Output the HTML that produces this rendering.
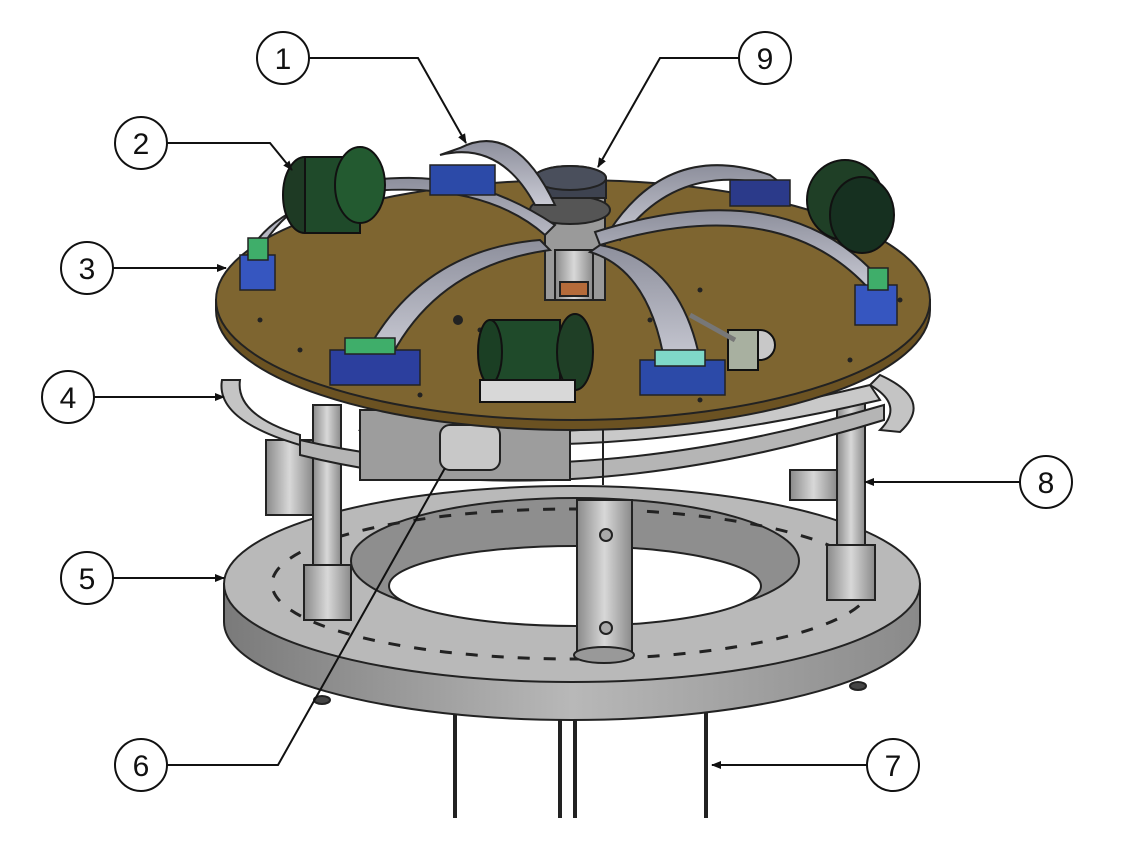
<!DOCTYPE html>
<html><head><meta charset="utf-8"><style>
html,body{margin:0;padding:0;background:#fff;}
svg{display:block;}
text{font-family:"Liberation Sans",sans-serif;font-size:30px;fill:#111;}
</style></head><body>
<svg width="1126" height="862" viewBox="0 0 1126 862">
<defs>
<marker id="ar" markerWidth="10" markerHeight="10" refX="9" refY="5" orient="auto" markerUnits="userSpaceOnUse"><path d="M0,1 L10,5 L0,9 z" fill="#111"/></marker>
<linearGradient id="gside" x1="0" x2="1"><stop offset="0" stop-color="#7a7a7a"/><stop offset="0.5" stop-color="#b8b8b8"/><stop offset="1" stop-color="#8a8a8a"/></linearGradient>
<linearGradient id="gcyl" x1="0" x2="1"><stop offset="0" stop-color="#8a8a8a"/><stop offset="0.5" stop-color="#d8d8d8"/><stop offset="1" stop-color="#8a8a8a"/></linearGradient>
<linearGradient id="gstrap" x1="0" x2="0" y1="0" y2="1"><stop offset="0" stop-color="#8d8f9c"/><stop offset="1" stop-color="#c9cad4"/></linearGradient>
</defs>

<!-- rods below -->
<g stroke="#222" stroke-width="4">
<line x1="455" y1="600" x2="455" y2="818"/><line x1="560" y1="600" x2="560" y2="818"/><line x1="575" y1="600" x2="575" y2="818"/><line x1="706" y1="600" x2="706" y2="818"/>
</g>

<!-- base ring -->
<g stroke="#222" stroke-width="2">
<path d="M224,584 L224,622 A348,98 0 0 0 920,622 L920,584 Z" fill="url(#gside)"/>
<ellipse cx="572" cy="584" rx="348" ry="98" fill="#b9b9b9"/>
<ellipse cx="575" cy="561" rx="224" ry="63" fill="#8e8e8e"/>
<ellipse cx="575" cy="586" rx="186" ry="40" fill="#fff"/>
<ellipse cx="322" cy="700" rx="8" ry="4" fill="#444"/>
<ellipse cx="858" cy="686" rx="8" ry="4" fill="#444"/>
</g>
<g fill="none" stroke="#222" stroke-width="3" stroke-dasharray="12 14">
<ellipse cx="572" cy="584" rx="300" ry="75"/>
</g>

<!-- pillars -->
<g stroke="#222" stroke-width="2">
<rect x="266" y="440" width="47" height="75" fill="url(#gcyl)"/>
<rect x="790" y="470" width="47" height="30" fill="url(#gcyl)"/>
<rect x="313" y="405" width="28" height="160" fill="url(#gcyl)"/>
<rect x="304" y="565" width="47" height="55" fill="url(#gcyl)"/>
<rect x="837" y="395" width="28" height="150" fill="url(#gcyl)"/>
<rect x="827" y="545" width="48" height="55" fill="url(#gcyl)"/>
<rect x="577" y="500" width="55" height="155" fill="url(#gcyl)"/>
<ellipse cx="604" cy="655" rx="30" ry="8" fill="#999"/>
<circle cx="606" cy="535" r="6" fill="#aaa"/><circle cx="606" cy="628" r="6" fill="#aaa"/>
</g>

<!-- middle ring -->
<g stroke="#222" stroke-width="2">
<path d="M222,380 Q215,420 300,445 L300,435 Q235,415 240,380 Z" fill="#c4c4c4"/>
<path d="M300,455 Q560,520 884,420 L884,405 Q560,500 300,440 Z" fill="#b5b5b5"/>
<path d="M360,430 Q580,470 880,400 L870,385 Q580,455 370,420 Z" fill="#c9c9c9"/>
<path d="M880,375 Q935,400 900,432 L880,430 Q905,405 870,385 Z" fill="#c4c4c4"/>
<rect x="360" y="410" width="210" height="70" fill="#9d9d9d"/>
<rect x="440" y="425" width="60" height="45" rx="10" fill="#c8c8c8"/>
<line x1="603" y1="420" x2="603" y2="485"/>
</g>

<!-- top disc -->
<g stroke="#222" stroke-width="2">
<path d="M216,300 L216,310 A357,120 0 0 0 930,310 L930,300 Z" fill="#6b5222"/>
<ellipse cx="573" cy="300" rx="357" ry="120" fill="#7e6530"/>
</g>
<g fill="#222">
<circle cx="260" cy="320" r="2.5"/><circle cx="300" cy="350" r="2.5"/><circle cx="420" cy="395" r="2.5"/><circle cx="700" cy="400" r="2.5"/><circle cx="850" cy="360" r="2.5"/><circle cx="900" cy="300" r="2.5"/><circle cx="480" cy="330" r="2.5"/><circle cx="650" cy="320" r="2.5"/><circle cx="700" cy="290" r="2.5"/><circle cx="458" cy="320" r="5"/>
</g>

<!-- central column -->
<g stroke="#222" stroke-width="2">
<rect x="545" y="190" width="60" height="110" fill="#9a9a9a"/>
<rect x="555" y="250" width="38" height="50" fill="url(#gcyl)"/>
<rect x="560" y="282" width="28" height="14" fill="#b56b3a"/>
<ellipse cx="570" cy="210" rx="40" ry="14" fill="#555"/>
<ellipse cx="570" cy="178" rx="36" ry="12" fill="#3e4350"/>
<rect x="534" y="178" width="72" height="20" fill="#3e4350"/>
<ellipse cx="570" cy="178" rx="36" ry="12" fill="#4a4f5c"/>
</g>

<!-- straps -->
<g stroke="#222" stroke-width="2" fill="url(#gstrap)">
<path d="M440,155 Q500,140 535,205 L555,205 Q515,120 460,148 Z"/>
<path d="M245,260 Q280,185 420,190 Q500,195 545,235 L555,225 Q480,175 400,178 Q300,180 260,250 Z"/>
<path d="M365,355 Q420,250 540,240 L550,250 Q440,265 392,355 Z"/>
<path d="M610,230 Q670,140 770,175 L790,190 Q680,155 620,240 Z"/>
<path d="M600,245 Q780,190 870,290 L885,285 Q790,170 595,232 Z"/>
<path d="M600,245 Q680,260 700,360 L665,365 Q650,270 590,252 Z"/>
</g>

<!-- blocks -->
<g stroke="#222" stroke-width="1.5">
<rect x="430" y="165" width="65" height="30" fill="#2c4aa8"/>
<rect x="240" y="255" width="35" height="35" fill="#3656c0"/><rect x="248" y="238" width="20" height="22" fill="#3fae6a"/>
<rect x="330" y="350" width="90" height="35" fill="#2c3f9e"/><rect x="345" y="338" width="50" height="16" fill="#3fae6a"/>
<rect x="640" y="360" width="85" height="35" fill="#2c4aa8"/><rect x="655" y="350" width="50" height="16" fill="#7fd8c8"/>
<rect x="855" y="285" width="42" height="40" fill="#3656c0"/><rect x="868" y="268" width="20" height="22" fill="#3fae6a"/>
<rect x="730" y="180" width="60" height="26" fill="#2b3a8a"/>
</g>

<!-- motors -->
<g stroke="#111" stroke-width="2">
<ellipse cx="305" cy="195" rx="22" ry="38" fill="#1e3a24"/>
<rect x="305" y="157" width="55" height="76" fill="#1f4a2a"/>
<ellipse cx="360" cy="185" rx="25" ry="38" fill="#235a30"/>
<ellipse cx="845" cy="200" rx="38" ry="40" fill="#1f3f26"/>
<ellipse cx="862" cy="215" rx="32" ry="38" fill="#163020"/>
<rect x="490" y="320" width="70" height="65" fill="#1f4a2a"/>
<ellipse cx="490" cy="352" rx="12" ry="32" fill="#1b3f24"/>
<ellipse cx="575" cy="352" rx="18" ry="38" fill="#1f3f26"/>
<rect x="480" y="380" width="95" height="22" fill="#d8d8d8"/>
<ellipse cx="760" cy="345" rx="15" ry="15" fill="#c8c8c8"/>
<rect x="728" y="330" width="30" height="40" fill="#a8b0a0"/>
<line x1="690" y1="315" x2="735" y2="340" stroke-width="5" stroke="#777"/>
</g>

<!-- callouts -->
<g fill="none" stroke="#111" stroke-width="2">
<polyline points="309,58 418,58 466,143" marker-end="url(#ar)"/>
<polyline points="739,58 660,58 598,167" marker-end="url(#ar)"/>
<polyline points="167,143 270,143 292,170" marker-end="url(#ar)"/>
<polyline points="113,268 226,268" marker-end="url(#ar)"/>
<polyline points="94,397 224,397" marker-end="url(#ar)"/>
<polyline points="113,578 224,578" marker-end="url(#ar)"/>
<polyline points="167,765 278,765 445,468"/>
<polyline points="867,765 712,765" marker-end="url(#ar)"/>
<polyline points="1020,482 865,482" marker-end="url(#ar)"/>
</g>
<g fill="#fff" stroke="#111" stroke-width="2">
<circle cx="283" cy="58" r="26"/>
<circle cx="765" cy="58" r="26"/>
<circle cx="141" cy="143" r="26"/>
<circle cx="87" cy="268" r="26"/>
<circle cx="68" cy="397" r="26"/>
<circle cx="87" cy="578" r="26"/>
<circle cx="141" cy="765" r="26"/>
<circle cx="893" cy="765" r="26"/>
<circle cx="1046" cy="482" r="26"/>
</g>
<g text-anchor="middle">
<text x="283" y="69">1</text><text x="765" y="69">9</text><text x="141" y="154">2</text>
<text x="87" y="279">3</text><text x="68" y="408">4</text><text x="87" y="589">5</text>
<text x="141" y="776">6</text><text x="893" y="776">7</text><text x="1046" y="493">8</text>
</g>
</svg>
</body></html>
